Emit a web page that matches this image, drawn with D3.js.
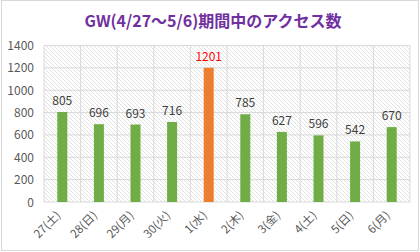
<!DOCTYPE html>
<html><head><meta charset="utf-8">
<script src="https://cdn.jsdelivr.net/npm/d3@7"></script>
<style>body{margin:0;background:#fff}svg{display:block}</style>
</head><body>
<svg id="c" width="420" height="252"></svg>
<script>
const categories = ["27(土)","28(日)","29(月)","30(火)","1(水)","2(木)","3(金)","4(土)","5(日)","6(月)"];
const values = [805,696,693,716,1201,785,627,596,542,670];
const highlight = [false,false,false,false,true,false,false,false,false,false];
const yTicks = [0,200,400,600,800,1000,1200,1400];
const title = "GW(4/27～5/6)期間中のアクセス数";

const svg = d3.select("#c");
const W = 420, H = 252;
const m = {l:44, r:10, t:45.5, b:50};
const x = d3.scaleBand().domain(categories).range([m.l, W - m.r]).paddingInner(0).paddingOuter(0);
const y = d3.scaleLinear().domain([0,1400]).range([H - m.b, m.t]);
const font = "'Noto Sans CJK JP', 'Noto Sans', sans-serif";

// outer border
svg.append("rect").attr("x",1.5).attr("y",0.5).attr("width",W-3).attr("height",H-2)
  .attr("fill","#fff").attr("stroke","#d9d9d9");

// hatch pattern
const defs = svg.append("defs");
const pat = defs.append("pattern").attr("id","hatch").attr("patternUnits","userSpaceOnUse")
  .attr("width",4).attr("height",4);
pat.append("rect").attr("width",4).attr("height",4).attr("fill","#fff");
pat.append("path").attr("d","M-1,-1 L5,5 M-1,3 L1,5 M3,-1 L5,1").attr("stroke","#dadada").attr("stroke-width",0.8);

svg.append("rect").attr("x",m.l).attr("y",m.t).attr("width",W-m.r-m.l).attr("height",H-m.b-m.t)
  .attr("fill","url(#hatch)");

// grid
const g = svg.append("g");
g.selectAll("line.h").data(yTicks).join("line")
  .attr("x1",m.l).attr("x2",W-m.r).attr("y1",d=>y(d)).attr("y2",d=>y(d))
  .attr("stroke","#d9d9d9").attr("stroke-width",1);
const bounds = categories.map(c=>x(c)).concat([W-m.r]);
g.selectAll("line.v").data(bounds).join("line")
  .attr("x1",d=>d).attr("x2",d=>d).attr("y1",m.t).attr("y2",H-m.b)
  .attr("stroke","#d9d9d9").attr("stroke-width",1);

// y labels
svg.selectAll("text.yl").data(yTicks).join("text")
  .attr("x",34).attr("y",d=>y(d)+4.5).attr("text-anchor","end")
  .attr("font-family",font).attr("font-size",12).attr("fill","#595959").text(d=>d);

// bars
const bw = 10;
svg.selectAll("rect.bar").data(values).join("rect")
  .attr("x",(d,i)=>x(categories[i])+x.bandwidth()/2-bw/2)
  .attr("y",d=>y(d)).attr("width",bw).attr("height",d=>y(0)-y(d))
  .attr("fill",(d,i)=>highlight[i]?"#ed7d31":"#70ad47");

// data labels
svg.selectAll("text.dl").data(values).join("text")
  .attr("x",(d,i)=>x(categories[i])+x.bandwidth()/2)
  .attr("y",d=>y(d)-7).attr("text-anchor","middle")
  .attr("font-family",font).attr("font-size",12)
  .attr("fill",(d,i)=>highlight[i]?"#ff0000":"#404040").text(d=>d);

// x labels
svg.selectAll("text.xl").data(categories).join("text")
  .attr("transform",d=>`translate(${x(d)+x.bandwidth()/2-1},${H-m.b+14}) rotate(-45)`)
  .attr("text-anchor","end").attr("font-family",font).attr("font-size",11.5)
  .attr("fill","#595959").text(d=>d);

// title
svg.append("text").attr("x",213).attr("y",27).attr("text-anchor","middle")
  .attr("font-family",font).attr("font-size",16).attr("font-weight","bold")
  .attr("fill","#7030a0").text(title);
</script>
</body></html>
